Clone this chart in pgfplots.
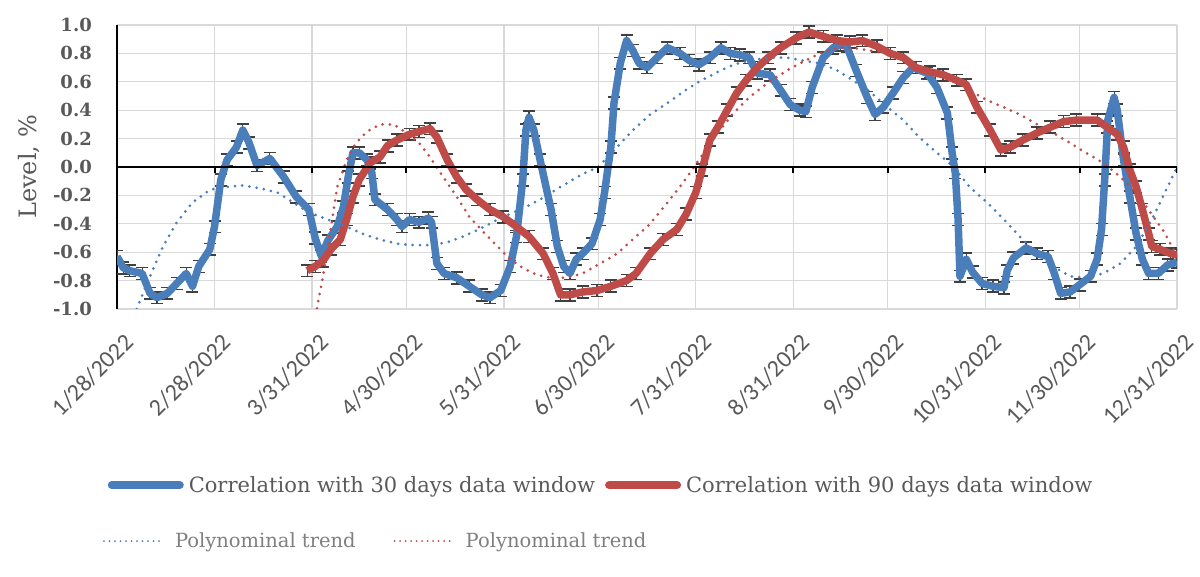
\documentclass[border=0pt]{standalone}
\usepackage{fontspec}
\setmainfont{DejaVu Serif}
\newfontfamily\carlito{Carlito}
\usepackage{pgfplots}
\usepackage{pgfplotstable}
\pgfplotsset{compat=1.18}
\definecolor{cblue}{HTML}{4A7EBB}
\definecolor{cred}{HTML}{BE4B48}
\definecolor{cgrid}{HTML}{D9D9D9}
\definecolor{ctext}{HTML}{595959}
\definecolor{ctext2}{HTML}{7F7F7F}
\definecolor{cerr}{HTML}{404040}

\pgfplotstableread{
x y
0 -0.63
2 -0.71
4 -0.73
8 -0.75
10.5 -0.89
12.7 -0.92
16 -0.89
19 -0.82
22 -0.75
24 -0.84
26 -0.70
29.5 -0.58
31 -0.42
33 -0.09
35 0.05
38 0.14
40 0.26
42 0.17
44.5 0.01
48.6 0.06
53 -0.07
57 -0.21
61 -0.30
63 -0.50
65 -0.63
67 -0.52
70 -0.42
72 -0.28
73.5 -0.07
75 0.10
77 0.10
79.5 0.05
81 -0.04
82 -0.23
86 -0.30
89 -0.37
90.6 -0.42
93 -0.37
96 -0.39
99 -0.36
100 -0.39
101.7 -0.68
104 -0.75
108 -0.78
112 -0.84
116 -0.90
118.6 -0.92
122 -0.87
125 -0.70
127 -0.49
129 -0.09
130 0.26
131 0.35
132.5 0.26
134.5 0.05
138 -0.30
140 -0.56
142 -0.70
144 -0.75
146 -0.65
148 -0.61
151 -0.54
153.6 -0.37
155 -0.18
157 0.14
158 0.45
160 0.73
162 0.89
164 0.82
166 0.73
168.5 0.70
171.7 0.77
175 0.84
179 0.80
182 0.75
185 0.72
188.5 0.77
192 0.84
195 0.80
198 0.79
201 0.77
203.5 0.66
207.6 0.65
211 0.54
214 0.44
217 0.40
219 0.39
221 0.56
224.5 0.77
227.7 0.84
230 0.86
232 0.85
235 0.68
238.5 0.49
241 0.37
243.6 0.42
246.7 0.52
250 0.63
253 0.70
257.6 0.66
260.7 0.56
264 0.38
265.5 0.10
266.5 -0.04
267.4 -0.37
268 -0.77
270 -0.65
272 -0.74
275 -0.82
278.5 -0.84
282 -0.85
283 -0.73
285 -0.64
289 -0.57
292.5 -0.61
296 -0.63
298 -0.75
300 -0.89
303 -0.88
306 -0.83
309.5 -0.77
311.6 -0.65
313 -0.44
314 -0.09
315 0.33
317 0.49
318 0.40
320 0.05
322 -0.21
324 -0.47
326 -0.65
328 -0.75
331 -0.75
334 -0.69
337 -0.67
}\bluedata

\pgfplotstableread{
x y
60.5 -0.73
63 -0.70
65.5 -0.66
68 -0.58
71 -0.51
73 -0.37
75 -0.21
77 -0.09
80.5 0.03
83.6 0.07
86 0.15
89 0.19
93 0.23
96 0.25
99.5 0.27
101.7 0.21
105 0.05
108 -0.07
111 -0.16
114.5 -0.23
118.6 -0.30
122.7 -0.35
127 -0.42
131 -0.49
135.5 -0.61
138.6 -0.75
141 -0.90
144 -0.90
148 -0.88
152.6 -0.87
157 -0.84
162 -0.80
165 -0.75
169.5 -0.61
173.6 -0.51
178 -0.44
181 -0.33
184 -0.18
186 -0.02
188.5 0.19
191 0.28
194 0.40
197 0.52
200 0.61
203.5 0.70
207 0.77
211 0.84
216 0.91
220 0.95
224.5 0.92
229 0.89
233 0.88
237 0.89
241.6 0.85
245.8 0.80
250 0.77
254 0.70
258.5 0.67
262.6 0.65
267 0.61
270 0.58
273.4 0.42
277.6 0.26
281 0.12
284 0.14
288 0.19
292.5 0.24
296.7 0.28
301 0.32
305 0.33
311.6 0.33
314.8 0.28
318 0.23
320 0.14
322 -0.02
324 -0.14
326 -0.30
328 -0.47
329 -0.56
331.6 -0.58
335 -0.61
337 -0.62
}\reddata

\pgfplotstableread{
x y
4 -1.20
6.4 -0.99
10.5 -0.77
14.6 -0.56
19 -0.39
24 -0.25
29.6 -0.16
35 -0.14
40 -0.13
45.5 -0.15
51 -0.18
56 -0.25
61 -0.32
67 -0.37
73 -0.42
78 -0.47
83.6 -0.51
89 -0.54
94 -0.55
99.5 -0.55
105 -0.53
110 -0.49
115 -0.44
121 -0.37
126 -0.32
131 -0.27
136 -0.21
141 -0.14
148 -0.05
153 0.00
159 0.14
164 0.26
169.5 0.37
175 0.45
180 0.53
185 0.60
191 0.67
196 0.72
201 0.75
207.6 0.77
213 0.77
218 0.75
223.5 0.73
229 0.68
234 0.61
239.4 0.53
245 0.42
250 0.33
255 0.21
260.7 0.10
266 0.00
271 -0.14
276.6 -0.25
282 -0.37
287 -0.49
292.5 -0.61
297.6 -0.70
303 -0.77
308 -0.78
313.5 -0.75
319 -0.68
324 -0.56
329 -0.37
334 -0.14
337 0.00
}\bluetrend

\pgfplotstableread{
x y
62.5 -1.20
63.6 -0.99
65.5 -0.77
67.7 -0.47
70 -0.14
73 0.05
76 0.17
79.5 0.25
83.6 0.30
88 0.30
92 0.24
96 0.17
99.5 0.07
103.7 -0.07
108 -0.21
112 -0.35
116.6 -0.46
121 -0.56
125 -0.65
129 -0.71
133.5 -0.76
138 -0.78
143 -0.78
148 -0.75
153.6 -0.68
159 -0.61
164 -0.51
169.5 -0.40
175 -0.25
180 -0.11
185 0.05
191 0.24
196 0.38
201 0.49
206.7 0.59
213 0.68
218 0.74
223.5 0.80
229 0.84
234 0.84
239.4 0.82
245 0.80
250 0.77
255 0.70
260.7 0.66
266 0.61
271 0.54
276.6 0.47
282 0.42
287 0.37
292.5 0.30
297.6 0.24
303 0.17
308 0.10
313.5 0.03
319 -0.07
324 -0.18
328.5 -0.32
333 -0.46
337 -0.63
}\redtrend

\begin{document}
\begin{tikzpicture}
\path[use as bounding box] (0,0) rectangle (1200pt,576pt);
\begin{axis}[
  at={(117pt,267pt)}, anchor=south west,
  width=1060pt, height=284pt, scale only axis,
  xmin=0, xmax=337, ymin=-1, ymax=1,
  xtick={0,31,62,92,123,153,184,215,245,276,306,337},
  xticklabels={1/28/2022,2/28/2022,3/31/2022,4/30/2022,5/31/2022,6/30/2022,7/31/2022,8/31/2022,9/30/2022,10/31/2022,11/30/2022,12/31/2022},
  ytick={-1,-0.8,-0.6,-0.4,-0.2,0,0.2,0.4,0.6,0.8,1},
  yticklabels={-1.0,-0.8,-0.6,-0.4,-0.2,0.0,0.2,0.4,0.6,0.8,1.0},
  grid=major, grid style={draw=cgrid, line width=1.3pt},
  axis y line*=left, axis x line*=bottom,
  x axis line style={draw=none},
  y axis line style={draw=black, line width=2.5pt},
  xtick style={draw=none}, ytick style={draw=none},
  xticklabel style={xshift=6pt, yshift=-23pt, rotate=45, anchor=north east, inner sep=0pt, font=\carlito\fontsize{24}{29}\selectfont, text=ctext},
  yticklabel style={anchor=east, inner sep=0pt, xshift=-25pt, font=\fontsize{18}{22}\selectfont\bfseries, text=ctext},
  ylabel={Level, \%},
  every axis y label/.style={at={(axis description cs:0,0.5)}, xshift=-88pt, rotate=90, anchor=center, font=\fontsize{24}{28}\selectfont, text=ctext},
  legend columns=2,
  legend image code/.code={\draw[#1] (0pt,0pt) -- (68pt,0pt);},
  legend style={draw=none, fill=none, inner sep=0pt, outer sep=0pt,
    at={(axis description cs:-0.0087,-0.620)}, anchor=west,
    font=\fontsize{21}{25}\selectfont, text=ctext, nodes={inner sep=0pt},
    /tikz/every odd column/.style={column sep=5pt},
    /tikz/every even column/.style={column sep=10pt}},
]
% error bar caps
\addplot[draw=none, forget plot, error bars/.cd, y dir=both, y fixed=0.042,
  error bar style={draw=cerr, line width=1.2pt},
  error mark options={rotate=90, mark size=6pt, line width=1.7pt, draw=cerr}] table {\bluedata};
\addplot[draw=none, forget plot, error bars/.cd, y dir=both, y fixed=0.042,
  error bar style={draw=cerr, line width=1.2pt},
  error mark options={rotate=90, mark size=6pt, line width=1.7pt, draw=cerr}] table {\reddata};
% main lines
\addplot[cblue, line width=7.5pt, line join=round, forget plot] table {\bluedata};
\addplot[cred, line width=7.5pt, line join=round, forget plot] table {\reddata};
% trends
\addplot[cblue, line width=3pt, line cap=round, dash pattern=on 0pt off 7.3pt, forget plot] table {\bluetrend};
\addplot[cred, line width=3pt, line cap=round, dash pattern=on 0pt off 7.3pt, forget plot] table {\redtrend};
% zero axis line
\draw[black, line width=2.5pt] (axis cs:0,0) -- (axis cs:337,0);
\pgfplotsinvokeforeach{31,62,92,123,153,184,215,245,276,306,337}{\draw[black, line width=2pt] (axis cs:#1,0) -- ++(0pt,-6pt);}
\addlegendimage{cblue, line width=8pt, line cap=round}
\addlegendentry{Correlation with 30 days data window}
\addlegendimage{cred, line width=8pt, line cap=round}
\addlegendentry{Correlation with 90 days data window}
\end{axis}
\begin{axis}[
  at={(117pt,267pt)}, anchor=south west,
  width=1060pt, height=284pt, scale only axis,
  hide axis, xmin=0, xmax=1, ymin=0, ymax=1,
  legend columns=2,
  legend image code/.code={\draw[#1] (0pt,0pt) -- (58pt,0pt);},
  legend style={draw=none, fill=none, inner sep=0pt, outer sep=0pt,
    at={(axis description cs:-0.0132,-0.817)}, anchor=west,
    font=\fontsize{19.5}{23}\selectfont, text=ctext2, nodes={inner sep=0pt},
    /tikz/every odd column/.style={column sep=12pt},
    /tikz/every even column/.style={column sep=38pt}},
]
\addlegendimage{cblue, line width=2pt, line cap=round, dash pattern=on 0pt off 5.5pt}
\addlegendentry{Polynominal trend}
\addlegendimage{cred, line width=2pt, line cap=round, dash pattern=on 0pt off 5.5pt}
\addlegendentry{Polynominal trend}
\end{axis}
\end{tikzpicture}
\end{document}
